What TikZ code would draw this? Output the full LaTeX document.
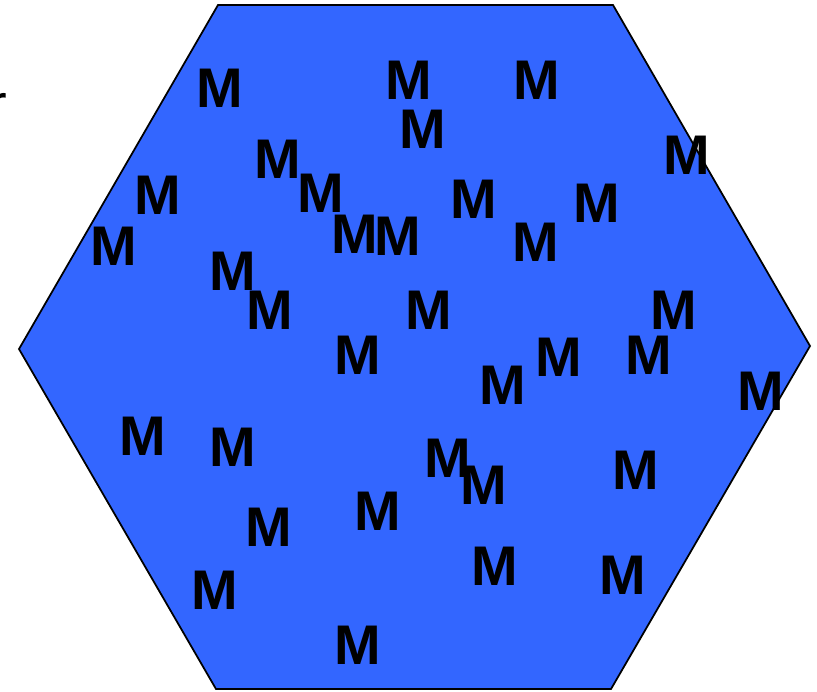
\documentclass[tikz,border=0pt]{standalone}
\usepackage{fontspec}
\setsansfont{Liberation Sans}
\usepackage{tikz}
\usetikzlibrary{positioning, calc}
\definecolor{cellcolor}{RGB}{51,102,255}

\begin{document}
\begin{tikzpicture}[
    x=0.02cm, y=-0.02cm,
    cell/.style={draw, line width=1pt, fill=cellcolor, line join=miter},
    mnode/.style={inner sep=0pt, text height=0.8cm, text depth=0pt, font=\sffamily\bfseries\fontsize{31.8}{32}\selectfont},
    cutoff/.style={inner sep=0pt, anchor=north east, font=\sffamily\fontsize{31.8}{32}\selectfont}
]
\useasboundingbox (0,0) rectangle (817,691);

% hexagon corners
\coordinate (tl) at (218,5);
\coordinate (tr) at (613,5);
\coordinate (rr) at (810,346);
\coordinate (br) at (611,689);
\coordinate (bl) at (216,689);
\coordinate (ll) at (19,349);
\draw[cell] (tl) -- (tr) -- (rr) -- (br) -- (bl) -- (ll) -- cycle;

% text cut off at the left edge
\node[cutoff] (cut) at (7,93) {r};

% molecules
\foreach \px/\py [count=\i] in {220/87, 409/79, 537/79, 423/128, 687/154, 278/158,
    158/194, 321/192, 474/198, 597/202, 355/233, 398/235, 536/241, 114/245,
    233/270, 270/309, 429/309, 674/309, 358/354, 559/356, 649/354, 503/384,
    761/390, 143/435, 233/446, 448/457, 484/484, 636/469, 378/510, 269/526,
    495/565, 215/589, 623/574, 358/644}
  \node[mnode] (m\i) at (\px,\py) {M};

\end{tikzpicture}
\end{document}
